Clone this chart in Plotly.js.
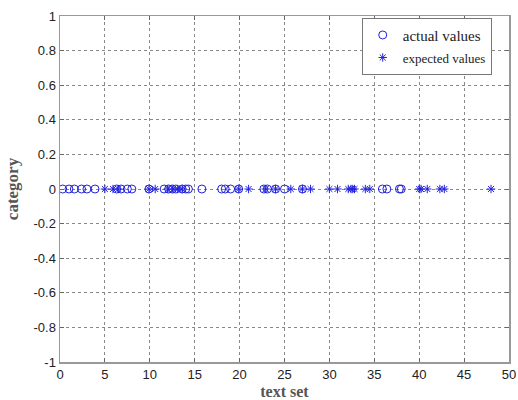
<!DOCTYPE html>
<html>
<head>
<meta charset="utf-8">
<script src="https://cdn.plot.ly/plotly-3.0.1.min.js"></script>
<style>html,body{margin:0;padding:0;background:#fff;}#chart{width:518px;height:400px;}</style>
</head>
<body>
<div id="chart"></div>
<script>
// actual values (circles), all at category 0
var actualX = [0.3, 1.0, 1.6, 2.4, 3.0, 3.9, 6.3, 6.8, 7.5, 8.0, 9.9, 11.6, 12.1, 12.5, 12.9, 13.6, 14.0, 14.3, 15.8, 18.0, 18.4, 19.0, 19.9, 22.7, 23.1, 24.0, 25.0, 27.0, 35.9, 36.4, 37.8, 38.0];
var actualY = actualX.map(function(){return 0;});
// expected values (asterisks)
var expectedX = [5.0, 5.9, 6.5, 9.9, 10.6, 12.0, 12.6, 13.1, 13.6, 19.9, 21.0, 22.9, 24.0, 25.7, 27.0, 27.9, 30.0, 30.9, 32.1, 32.4, 32.6, 32.8, 34.0, 34.5, 40.0, 40.2, 40.9, 42.3, 42.8, 48.0];
var expectedY = expectedX.map(function(){return 0;});
var yTicks = [-1, -0.8, -0.6, -0.4, -0.2, 0, 0.2, 0.4, 0.6, 0.8, 1];
var yTickText = ['-1', '-0.8', '-0.6', '-0.4', '-0.2', '0', '0.2', '0.4', '0.6', '0.8', '1'];
var xTicks = [0, 5, 10, 15, 20, 25, 30, 35, 40, 45, 50];

var traces = [
  {x: actualX, y: actualY, type: 'scatter', mode: 'markers',
   name: 'actual values',
   marker: {symbol: 'circle-open', size: 8, color: '#2222dd', line: {width: 1, color: '#2222dd'}}},
  {x: expectedX, y: expectedY, type: 'scatter', mode: 'markers',
   name: '<span style="font-size:13px">expected values</span>',
   marker: {symbol: 'asterisk-open', size: 7, color: '#2222dd', line: {width: 1, color: '#2222dd'}}}
];
var axisCommon = {
  showline: true, linecolor: '#999', linewidth: 1.5, mirror: 'allticks',
  ticks: 'inside', ticklen: 4, tickcolor: '#666',
  showgrid: true, gridcolor: '#888', griddash: 'dot', gridwidth: 1,
  zeroline: false,
  tickfont: {family: 'Liberation Sans, Arial', size: 13, color: '#222'}
};
var layout = {
  width: 518, height: 400,
  margin: {l: 60, r: 9, t: 16, b: 38},
  paper_bgcolor: '#fff', plot_bgcolor: '#fff',
  showlegend: true,
  xaxis: Object.assign({}, axisCommon, {range: [0, 50], tickvals: xTicks,
    title: {text: 'text set', font: {family: 'Liberation Serif, Times New Roman', size: 16, color: '#555', weight: 'bold'}, standoff: 8}}),
  yaxis: Object.assign({}, axisCommon, {range: [-1, 1], tickvals: yTicks, ticktext: yTickText,
    title: {text: 'category', font: {family: 'Liberation Serif, Times New Roman', size: 17, color: '#555', weight: 'bold'}, standoff: 10}}),
  legend: {x: 0.672, y: 0.995, xanchor: 'left', yanchor: 'top', bgcolor: '#fff',
    bordercolor: '#777', borderwidth: 1,
    font: {family: 'Liberation Serif, Times New Roman', size: 15, color: '#222'},
    tracegroupgap: 0, itemwidth: 30, entrywidth: 108}
};
Plotly.newPlot('chart', traces, layout, {displayModeBar: false, staticPlot: true});
</script>
</body>
</html>
